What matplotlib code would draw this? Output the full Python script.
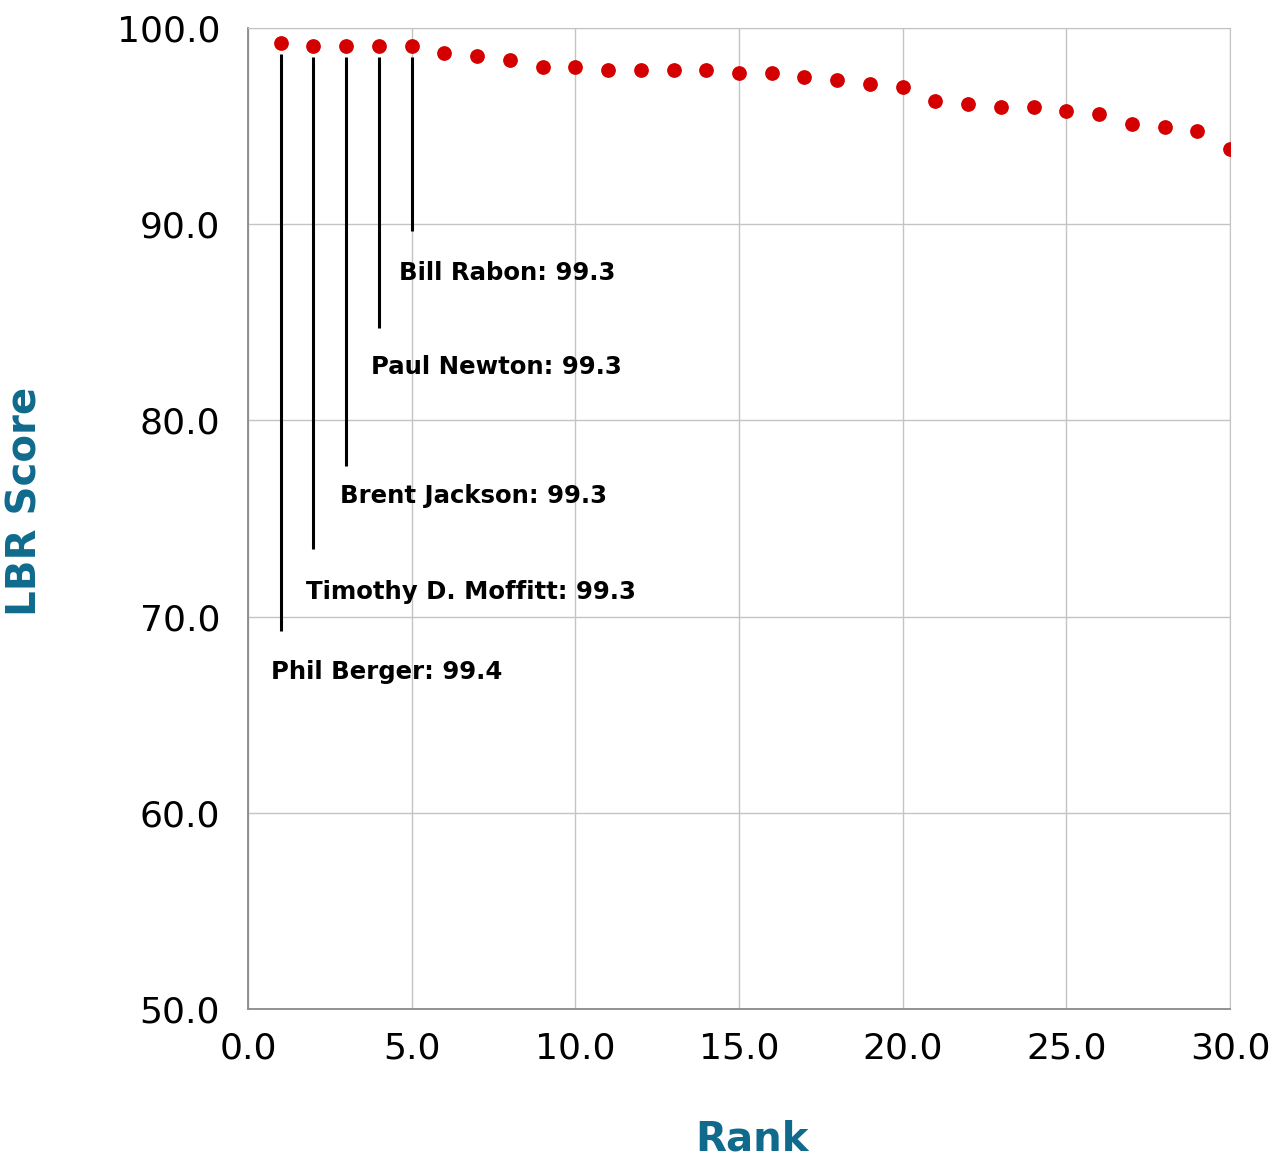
import matplotlib.pyplot as plt

# Data
ranks = list(range(1, 31))
scores = [99.23, 99.06, 99.06, 99.06, 99.06, 98.72, 98.55, 98.38, 98.04, 98.04,
          97.87, 97.87, 97.87, 97.85, 97.70, 97.70, 97.48, 97.34, 97.14, 96.99,
          96.30, 96.13, 95.99, 95.99, 95.79, 95.64, 95.09, 94.98, 94.77, 93.85]

# Callouts for the top five
names = ['Phil Berger: 99.4', 'Timothy D. Moffitt: 99.3', 'Brent Jackson: 99.3',
         'Paul Newton: 99.3', 'Bill Rabon: 99.3']
line_bottoms = [69.25, 73.44, 77.7, 84.7, 89.65]
label_x = [0.70, 1.77, 2.81, 3.76, 4.61]
label_y = [67.2, 71.25, 76.15, 82.7, 87.5]

teal = '#0f6a8c'
red = '#d40000'

plt.rcParams['font.family'] = 'DejaVu Sans'

fig = plt.figure(figsize=(12.79, 11.64), dpi=100)
ax = fig.add_axes([0.1939, 0.1332, 0.7678, 0.8427])

ax.plot(ranks, scores, 'o', color=red, markersize=9.6, zorder=3)

# Leader lines from just below each of the top five points
for i in range(5):
    ax.plot([ranks[i], ranks[i]], [scores[i] - 0.55, line_bottoms[i]],
            color='black', linewidth=2.2, solid_capstyle='butt', zorder=2)
    ax.text(label_x[i], label_y[i], names[i], fontsize=17.6, fontweight='bold',
            ha='left', va='center', color='black')

ax.set_xlim(0, 30)
ax.set_ylim(50, 100)
ax.set_xticks([0, 5, 10, 15, 20, 25, 30])
ax.set_yticks([50, 60, 70, 80, 90, 100])
ax.set_xticklabels(['%.1f' % t for t in ax.get_xticks()])
ax.set_yticklabels(['%.1f' % t for t in ax.get_yticks()])
ax.tick_params(axis='both', length=0, labelsize=26, colors='black')
ax.tick_params(axis='x', pad=16)
ax.tick_params(axis='y', pad=20)

ax.grid(True, color='#c4c4c4', linewidth=1)
ax.set_axisbelow(True)
for side in ['top', 'right']:
    ax.spines[side].set_color('#c4c4c4')
for side in ['left', 'bottom']:
    ax.spines[side].set_color('#8a8a8a')
    ax.spines[side].set_linewidth(1.3)

ax.set_xlabel('Rank', fontsize=29, fontweight='bold', color=teal)
ax.set_ylabel('LBR Score', fontsize=29, fontweight='bold', color=teal)
ax.xaxis.set_label_coords(0.513, -0.113)
ax.yaxis.set_label_coords(-0.206, 0.517)

plt.savefig('out.png', dpi=100)
